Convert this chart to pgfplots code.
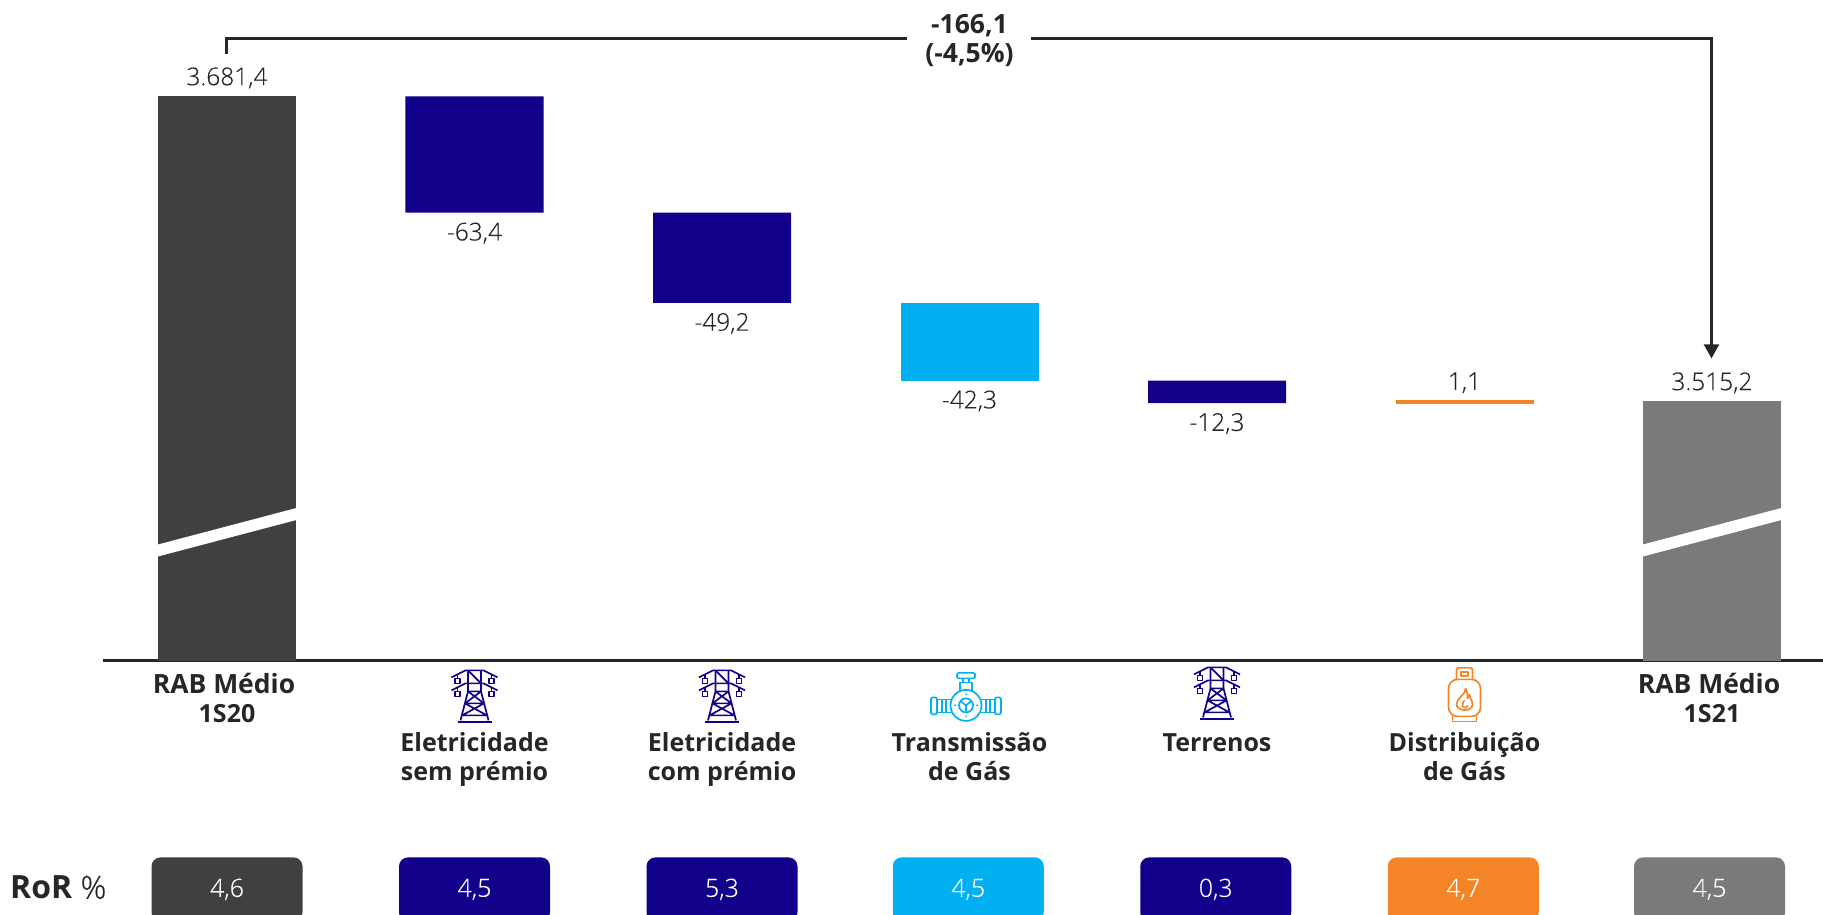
\documentclass[border=0pt]{standalone}
\usepackage{fontspec}
\setmainfont{Open Sans}
\newfontfamily\lightf[FakeBold=0.3]{Open Sans Light}
\usepackage{pgfplots}
\pgfplotsset{compat=1.18}
\usepackage{pgfplotstable}
\usetikzlibrary{arrows.meta}
\definecolor{dark}{HTML}{404040}
\definecolor{navy}{HTML}{10008A}
\definecolor{sky}{HTML}{00B0F0}
\definecolor{gas}{HTML}{F58426}
\definecolor{mid}{HTML}{7A7A7A}
\definecolor{ink}{HTML}{262626}

% waterfall: invisible base + one column per colour
\pgfplotstableread{
x base dark navy sky gas mid
0 0      3681.4 0    0    0   0
1 3618.0 0      63.4 0    0   0
2 3568.8 0      49.2 0    0   0
3 3526.5 0      0    42.3 0   0
4 3514.2 0      12.3 0    0   0
5 3514.2 0      0    0    1.1 0
6 0      0      0    0    0   3515.2
}\wf

\pgfplotsset{
  sheet/.style={
    scale only axis, width=1720pt, height=660pt,
    xmin=-0.50101, xmax=6.44848, ymin=3374, ymax=3733.73,
  },
  lbl/.style={
    draw=none, nodes near coords, point meta=explicit symbolic,
    nodes near coords style={inner sep=0pt, text=ink, text height=18pt, text depth=5pt,
      font=\fontsize{24.5}{29}\selectfont\lightf, #1},
  },
  pill/.style={
    draw=none, nodes near coords, point meta=explicit symbolic,
    nodes near coords style={anchor=center, inner sep=0pt, text=white, fill=#1,
      rounded corners=9pt, minimum width=151pt, minimum height=64pt,
      font=\fontsize{25}{29}\selectfont\lightf},
  },
}

% icons, drawn in picture pixels (centre x, top y)
\newcommand{\pylon}[2]{%
  \begin{scope}[shift={(#1,#2)}, navy, line width=1.7pt, line join=round]
    \draw (-23,8)--(-9,1)--(9,1)--(23,8);
    \draw (-23,21)--(-9,14)--(9,14)--(23,21);
    \draw (-17,6)--(-17,9) (17,6)--(17,9) (-17,18)--(-17,22) (17,18)--(17,22);
    \draw (-19.5,9) rectangle (-14.5,14) (14.5,9) rectangle (19.5,14);
    \draw (-19.5,22) rectangle (-14.5,27) (14.5,22) rectangle (19.5,27);
    \draw (-6.5,1)--(-6.5,22)--(-14,51) (6.5,1)--(6.5,22)--(14,51);
    \draw (-6.5,1)--(6.5,14) (-6.5,22)--(6.5,22)--(-9.5,34)--(9.5,34)--(-6.5,22)
          (-9.5,34)--(12.5,46)--(-12.5,46)--(9.5,34);
    \draw (-17,52.5)--(17,52.5);
  \end{scope}}
\newcommand{\valve}[2]{%
  \begin{scope}[shift={(#1,#2)}, sky, line width=1.7pt, line join=round]
    \draw (0,33) circle (15.5);
    \draw (0,33) circle (7);
    \draw (0,33)--(0,39) (0,33)--(-5,29) (0,33)--(5,29);
    \fill (0,22) circle (1) (0,44) circle (1) (-11,33) circle (1) (11,33) circle (1);
    \draw[rounded corners=1.5pt] (-9,6)--(-9,0.5)--(9,0.5)--(9,6)--cycle;
    \draw (-3,6)--(-3,10) (3,6)--(3,10);
    \draw (-6,19)--(-6,10)--(6,10)--(6,19);
    \draw (-15,27)--(-29,27) (-15,40)--(-29,40) (15,27)--(29,27) (15,40)--(29,40);
    \draw (-24,27)--(-24,40) (-20,27)--(-20,40) (24,27)--(24,40) (20,27)--(20,40);
    \draw[rounded corners=1.5pt] (-29,25) rectangle (-35,42);
    \draw[rounded corners=1.5pt] (29,25) rectangle (35,42);
  \end{scope}}
\newcommand{\bottle}[2]{%
  \begin{scope}[shift={(#1,#2)}, gas, line width=1.7pt, line join=round]
    \draw[rounded corners=2pt] (-8,12)--(-8,0.5)--(8,0.5)--(8,12);
    \draw (-3.5,4.5) rectangle (3.5,8.5);
    \draw[rounded corners=9pt] (-16,49)--(-16,12)--(16,12)--(16,49)--cycle;
    \draw (-12,49)--(-12,54)--(12,54)--(12,49);
    \draw (1,21) .. controls (2,27) and (-8,30) .. (-8,37)
          .. controls (-8,44) and (8,45) .. (8,37)
          .. controls (8,33) and (5,31) .. (5,27)
          .. controls (4,29) and (4,30) .. (3,31)
          .. controls (3,27) and (3,24) .. (1,21);
    \draw (0,33) .. controls (-1,35) and (-3,36) .. (-2,39) .. controls (-1,41) and (3,41) .. (3,38);
  \end{scope}}

\begin{document}
\begin{tikzpicture}
\useasboundingbox (-103pt,-254.6pt) rectangle (1720pt,660.4pt);

\begin{axis}[
  sheet,
  ybar stacked, bar width=138pt,
  axis y line=none, axis x line=bottom,
  x axis line style={-, line width=2.4pt, ink},
  xtick={0,1,2,3,4,5,6},
  xticklabels={
    {\fontsize{26.5}{29}\selectfont\rule{0pt}{25pt}RAB Médio\kern6pt\\1S20},
    {\rule{0pt}{83pt}Eletricidade\\sem prémio},
    {\rule{0pt}{83pt}Eletricidade\\com prémio},
    {\rule{0pt}{83pt}Transmissão\\de Gás},
    {\rule{0pt}{83pt}Terrenos},
    {\rule{0pt}{83pt}Distribuição\\de Gás},
    {\fontsize{26.5}{29}\selectfont\rule{0pt}{25pt}RAB Médio\kern6pt\\1S21}},
  major tick length=0pt,
  xticklabel style={align=center, anchor=north, inner sep=0pt, yshift=-8pt, text=ink,
    font=\fontsize{25}{29}\selectfont\bfseries},
]
\addplot[draw=none, fill=none] table[x=x, y=base] {\wf};
\addplot[draw=none, fill=dark] table[x=x, y=dark] {\wf};
\addplot[draw=none, fill=navy] table[x=x, y=navy] {\wf};
\addplot[draw=none, fill=sky] table[x=x, y=sky] {\wf};
\addplot[draw=none, fill=gas] table[x=x, y=gas] {\wf};
\addplot[draw=none, fill=mid] table[x=x, y=mid] {\wf};
\end{axis}

\begin{axis}[sheet, hide axis, clip=false]
% the 1,1 column is drawn thicker than its value
\addplot[gas, line width=3.6pt] coordinates {(4.7212,3514.8) (5.2788,3514.8)};
\addplot[lbl={anchor=south, yshift=6pt}] coordinates {
  (0,3681.4) [3.681,4]
  (5,3515.3) [1,1]
  (6,3515.2) [3.515,2]
};
\addplot[lbl={anchor=north, yshift=-9.5pt}] coordinates {
  (1,3618.0) [-63,4]
  (2,3568.8) [-49,2]
  (3,3526.5) [-42,3]
  (4,3514.2) [-12,3]
};
% RoR row
\addplot[pill=dark] coordinates {(0,3249.2) [4,6]};
\addplot[pill=navy] coordinates {(1,3249.2) [4,5] (2,3249.2) [5,3] (3.995,3249.2) [0,3]};
\addplot[pill=sky] coordinates {(2.995,3249.2) [4,5]};
\addplot[pill=gas] coordinates {(4.995,3249.2) [4,7]};
\addplot[pill=mid] coordinates {(5.99,3249.2) [4,5]};
\end{axis}

% everything below in picture pixels, y down
\begin{scope}[shift={(-103pt,660pt)}, x=1pt, y=-1pt]
  \fill[white] (150,546.2) -- (304,505.6) -- (304,517.6) -- (150,558.2) -- cycle;
  \fill[white] (1635,546.2) -- (1789,505.6) -- (1789,517.6) -- (1635,558.2) -- cycle;
  \draw[ink, line width=2.4pt] (226.5,54) -- (226.5,38) -- (907,38);
  \draw[ink, line width=2.4pt, -{Triangle[length=14pt,width=15pt]}] (1031,38) -- (1711.5,38) -- (1711.5,358);
  \node[align=center, text=ink, inner sep=0pt, font=\fontsize{26.5}{29}\selectfont\bfseries] at (969.5,40.5) {-166,1\\(-4,5\%)};
  \node[anchor=west, inner sep=0pt, text=ink, font=\fontsize{32}{34}\selectfont] at (10,887) {\textbf{RoR} {\lightf\%}};
  \pylon{474.5}{669}
  \pylon{722}{669}
  \pylon{1217}{666}
  \valve{966}{672}
  \bottle{1464.5}{667}
\end{scope}
\end{tikzpicture}
\end{document}
